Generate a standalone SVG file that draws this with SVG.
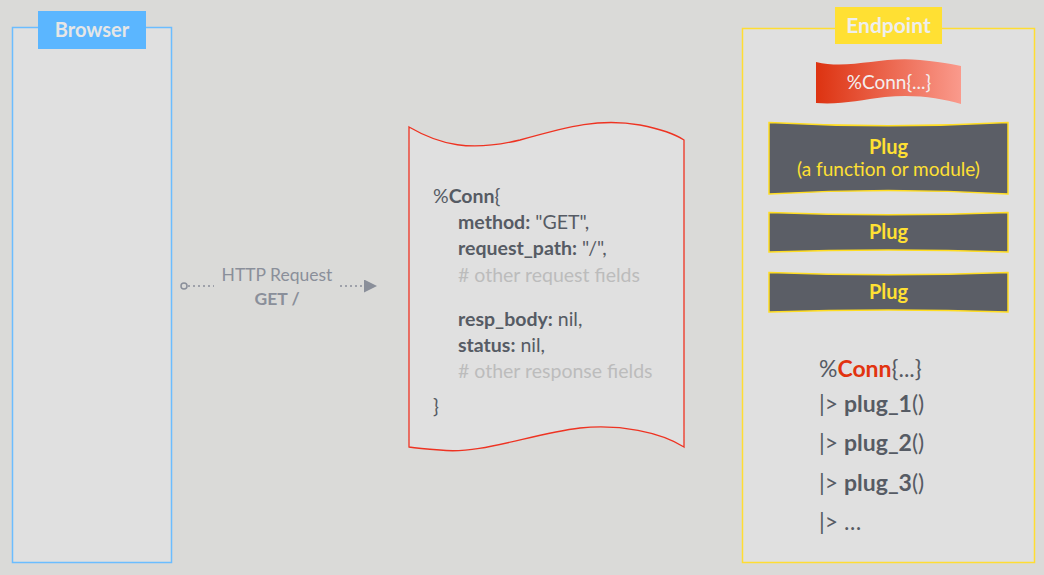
<svg xmlns="http://www.w3.org/2000/svg" width="1044" height="575" viewBox="0 0 1044 575">
<defs>
<style>
.t{font-family:Lato,"Open Sans","Noto Sans",sans-serif;}
.code{font-family:Lato,"Open Sans",sans-serif;font-size:19.5px;fill:#565b64;}
.cmt{fill:#bcbcbc;}
.b{font-weight:bold;}
.plug{fill:#5b5e66;stroke:#ffdd22;stroke-width:1.5;}
.plugt{font-family:Lato,"Open Sans",sans-serif;font-weight:bold;font-size:20px;fill:#ffe033;text-anchor:middle;}
.pipe{font-family:Lato,"Open Sans",sans-serif;font-size:23px;fill:#565b64;}
</style>
<linearGradient id="rg" x1="0" y1="0" x2="1" y2="0">
<stop offset="0" stop-color="#dd3311"/>
<stop offset="1" stop-color="#fa9a8c"/>
</linearGradient>
<marker id="ah" viewBox="0 0 10 10" refX="0" refY="5" markerWidth="13" markerHeight="13" markerUnits="userSpaceOnUse" orient="auto">
<path d="M0,0 L10,5 L0,10 Z" fill="#8a8f9a"/>
</marker>
</defs>
<rect x="0" y="0" width="1044" height="575" fill="#dadad8"/>

<g id="browser">
<rect x="12.5" y="27.5" width="159" height="535" fill="#e0e0e0" stroke="#6bbdff" stroke-width="1.5"/>
<rect x="38" y="11" width="108" height="38" fill="#5bb6ff"/>
<text class="t b" x="92" y="37" font-size="20" fill="#e6e6e6" text-anchor="middle">Browser</text>
</g>

<g id="connectors">
<circle cx="184" cy="286" r="3" fill="none" stroke="#8a8f9a" stroke-width="1.5"/>
<line x1="188" y1="286" x2="214" y2="286" stroke="#8a8f9a" stroke-width="1.5" stroke-dasharray="2,3"/>
<line x1="340" y1="286" x2="364" y2="286" stroke="#8a8f9a" stroke-width="1.5" stroke-dasharray="2,3" marker-end="url(#ah)"/>
<text class="t" x="277" y="281" font-size="17.5" fill="#8a8f9a" text-anchor="middle">HTTP Request</text>
<text class="t b" x="277" y="305" font-size="17.5" fill="#8a8f9a" text-anchor="middle">GET /</text>
</g>

<g id="conn-doc">
<path d="M409,127 C440,145 470,152 520,140 C570,126 600,118 640,125 C660,129 675,134 684,140 L684,447 C660,432 620,424 580,428 C530,434 480,455 440,450 C425,449 415,448 409,447 Z" fill="#e0e0e0" stroke="#ee3322" stroke-width="1.3"/>
<text class="code" x="433" y="203">%<tspan class="b">Conn</tspan>{</text>
<text class="code" x="458" y="229"><tspan class="b">method:</tspan> "GET",</text>
<text class="code" x="458" y="255"><tspan class="b">request_path:</tspan> "/",</text>
<text class="code cmt" x="458" y="282"># other request fields</text>
<text class="code" x="458" y="326"><tspan class="b">resp_body:</tspan> nil,</text>
<text class="code" x="458" y="352"><tspan class="b">status:</tspan> nil,</text>
<text class="code cmt" x="458" y="378"># other response fields</text>
<text class="code" x="433" y="413">}</text>
</g>

<g id="endpoint">
<rect x="742.5" y="28.5" width="292" height="534" fill="#e0e0e0" stroke="#ffdd33" stroke-width="1.5"/>
<rect x="835" y="7" width="107" height="37" fill="#ffe033"/>
<text class="t b" x="888.5" y="33" font-size="21" fill="#eeeeee" text-anchor="middle">Endpoint</text>
</g>

<g id="conn-banner">
<path d="M816,62 C850,70 880,56 920,60 C940,62 952,64 961,66 L961,104 C940,98 915,94 885,97 C860,100 840,105 816,103 Z" fill="url(#rg)"/>
<text class="t" x="889" y="89" font-size="19" fill="#f3eeee" text-anchor="middle">%Conn{...}</text>
</g>

<g id="plug1">
<path class="plug" d="M769,122.5 Q888,129 1008,122.5 L1008,194 Q888,187 769,194 Z"/>
<text class="plugt" x="888.5" y="154">Plug</text>
<text class="plugt" x="888.5" y="176" style="font-weight:normal;font-size:19px">(a function or module)</text>
</g>

<g id="plug2">
<path class="plug" d="M769,212.5 Q888,217 1008,212.5 L1008,252 Q888,248 769,252 Z"/>
<text class="plugt" x="888.5" y="239">Plug</text>
</g>

<g id="plug3">
<path class="plug" d="M769,272.5 Q888,277 1008,272.5 L1008,312 Q888,308 769,312 Z"/>
<text class="plugt" x="888.5" y="299">Plug</text>
</g>

<g id="pipeline">
<text class="pipe" x="819" y="377">%<tspan class="b" fill="#e2330f">Conn</tspan>{...}</text>
<text class="pipe" x="819" y="412">|&gt; <tspan class="b">plug_1</tspan>()</text>
<text class="pipe" x="819" y="451">|&gt; <tspan class="b">plug_2</tspan>()</text>
<text class="pipe" x="819" y="491">|&gt; <tspan class="b">plug_3</tspan>()</text>
<text class="pipe" x="819" y="530">|&gt; …</text>
</g>
</svg>
